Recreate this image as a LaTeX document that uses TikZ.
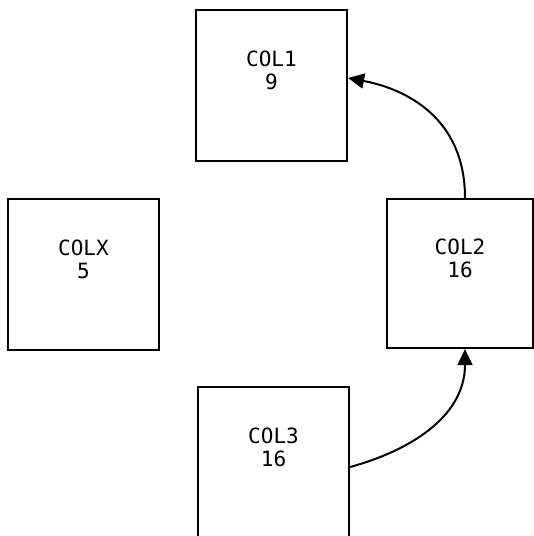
\documentclass[tikz,border=0pt]{standalone}
\usepackage{fontspec}
\newfontfamily\plotfont{DejaVu Sans Mono}
\usetikzlibrary{arrows.meta}
\tikzset{
  colbox/.style={draw, line width=2.2pt, minimum width=151pt, minimum height=151pt,
    align=center, inner sep=0pt, font=\plotfont\fontsize{21}{23}\selectfont},
  flow/.style={line width=2pt, -{Triangle[length=16pt,width=15pt]}}
}
\begin{document}
\begin{tikzpicture}[x=1pt,y=-1pt]
\useasboundingbox (0,0) rectangle (534,536);
\node[colbox] (col1) at (271.5,85.5) {COL1\\9\\\strut};
\node[colbox] (colx) at (83.5,274.5) {COLX\\5\\\strut};
\node[colbox, minimum width=146pt, minimum height=149pt] (col2) at (460,273.5) {COL2\\16\\\strut};
\node[colbox] (col3) at (273.5,462.5) {COL3\\16\\\strut};
\draw[flow] ([xshift=5pt]col2.north) .. controls +(0,-80) and +(58,11) .. ([yshift=7.5pt]col1.east);
\draw[flow] ([yshift=-4.5pt]col3.east) .. controls +(55,-15) and +(0,70) .. ([xshift=5pt]col2.south);
\end{tikzpicture}
\end{document}
